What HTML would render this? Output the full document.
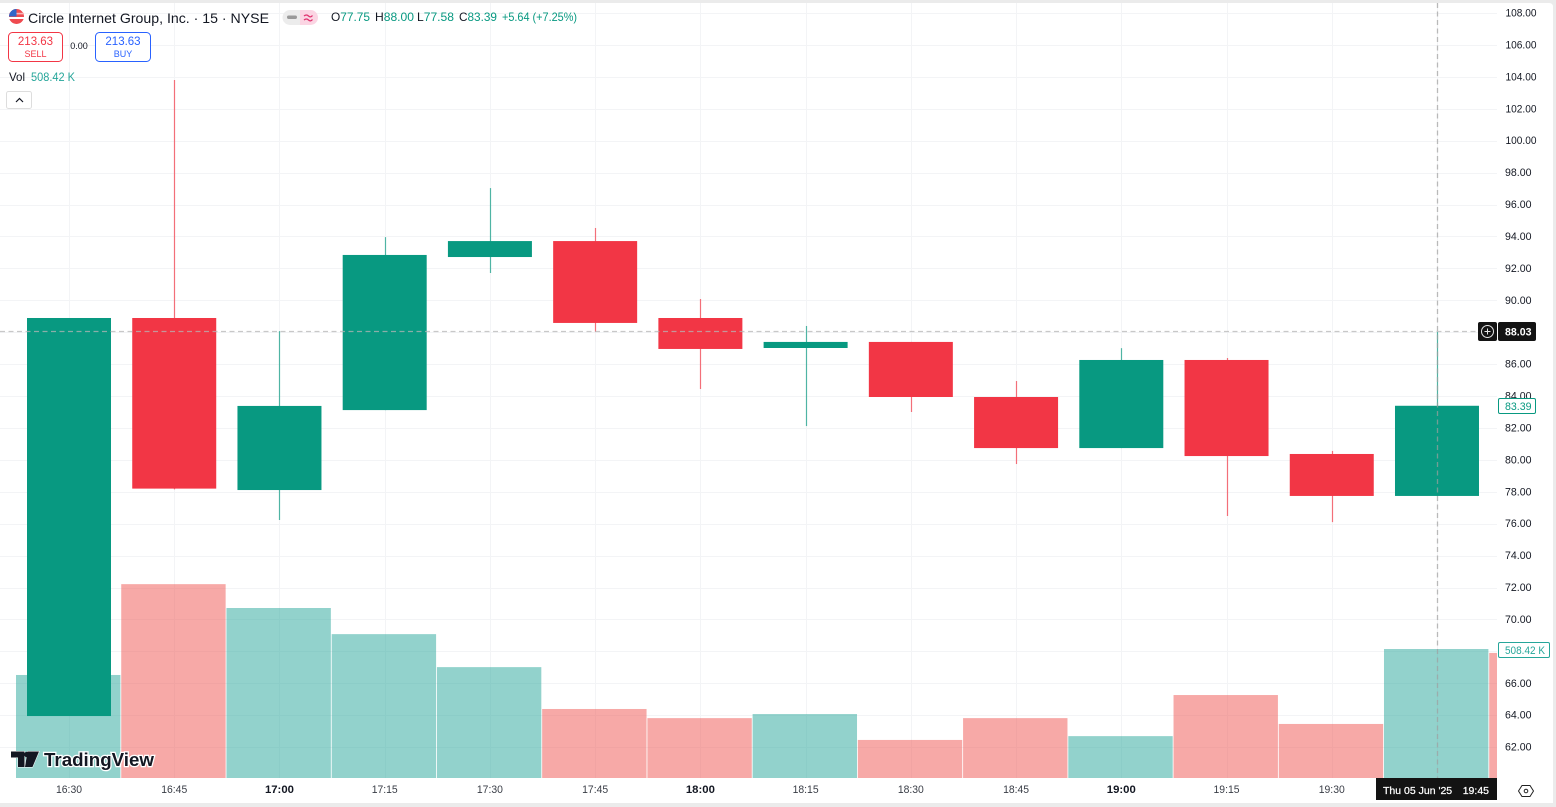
<!DOCTYPE html>
<html lang="en">
<head>
<meta charset="utf-8">
<title>Circle Internet Group 15m chart</title>
<style>
html,body{margin:0;padding:0;width:1556px;height:807px;overflow:hidden;background:#ebebeb}
svg{display:block;position:absolute;left:0;top:0}
text{font-family:"Liberation Sans",sans-serif}
</style>
</head>
<body>
<svg id="chart" xmlns="http://www.w3.org/2000/svg" width="1556" height="807" viewBox="0 0 1556 807">
  <defs>
    <clipPath id="pane-clip"><rect x="0" y="2" width="1497" height="776"/></clipPath>
  </defs>
  <path d="M0 3H1549Q1553 3 1553 7V803H0Z" fill="#ffffff"/>
  <g id="grid"></g>
  <g id="volumes" clip-path="url(#pane-clip)"></g>
  <g id="candles" clip-path="url(#pane-clip)"></g>
  <g id="price-axis"></g>
  <g id="time-axis"></g>

  <line x1="1437.5" y1="3" x2="1437.5" y2="778" stroke="#a0a0a0" stroke-opacity=".7" stroke-width="1.300" stroke-dasharray="5 3.500"/>
  <line x1="0" y1="331.5" x2="1478" y2="331.5" stroke="#b5b5b5" stroke-opacity=".75" stroke-width="1.300" stroke-dasharray="5 3.500"/>

  <g>
    <rect x="1478" y="322" width="19" height="19" rx="2" fill="#131313"/>
    <circle cx="1487.5" cy="331.5" r="6" fill="none" stroke="#e5e5e5"/>
    <path d="M1484.5 331.5h6M1487.5 328.5v6" stroke="#e5e5e5"/>
  </g>
  <g>
    <rect x="1498" y="322" width="38" height="19" rx="2" fill="#131313"/>
    <text x="1505" y="335.5" font-size="11" font-weight="bold" fill="#ffffff" textLength="26.500" lengthAdjust="spacingAndGlyphs">88.03</text>
  </g>
  <g>
    <rect x="1498.5" y="398.5" width="37" height="15" rx="1.5" fill="#ffffff" stroke="#089981"/>
    <text x="1505" y="410" font-size="11" fill="#089981" textLength="26.500" lengthAdjust="spacingAndGlyphs">83.39</text>
  </g>
  <g>
    <rect x="1498.5" y="642.5" width="51" height="15" rx="1.5" fill="#ffffff" stroke="#26a69a"/>
    <text x="1505" y="654" font-size="11" fill="#26a69a" textLength="40" lengthAdjust="spacingAndGlyphs">508.42 K</text>
  </g>
  <g>
    <rect x="1376" y="778" width="121" height="22" fill="#131313"/>
    <text x="1383" y="794" font-size="10.5" fill="#ffffff" stroke="#ffffff" stroke-width=".25">Thu 05 Jun '25</text>
    <text x="1489" y="794" text-anchor="end" font-size="10.5" fill="#ffffff" stroke="#ffffff" stroke-width=".25">19:45</text>
  </g>
  <g>
    <path d="M1522 785.5h8l3.500 5.500-3.500 5.500h-8l-3.500-5.500z" fill="none" stroke="#222" stroke-width="1"/>
    <circle cx="1526" cy="791" r="1.800" fill="none" stroke="#222"/>
  </g>

  <g>
    <circle cx="16.500" cy="16.500" r="7.500" fill="#ef4a4f"/>
    <rect x="9" y="17" width="15" height="2" fill="#ffffff"/>
    <rect x="9" y="12.800" width="15" height="1.600" fill="#f7b7ba"/>
    <path d="M9 16.500A7.500 7.500 0 0 1 16.500 9V16.500Z" fill="#2f66c9"/>
  </g>
  <text x="28" y="23" font-size="14" fill="#131722" textLength="241" lengthAdjust="spacingAndGlyphs">Circle Internet Group, Inc. · 15 · NYSE</text>
  <g>
    <path d="M290 10H300V25H290A7.500 7.500 0 0 1 290 10Z" fill="#ececec"/>
    <path d="M300 10H310.500A7.500 7.500 0 0 1 310.500 25H300Z" fill="#fbd5e3"/>
    <rect x="287" y="15.500" width="10" height="3.500" rx="1.700" fill="#9a9a9a"/>
    <path d="M304 16q2.500-2 4.500 0t4-.5M304 20q2.500-2 4.500 0t4-.5" fill="none" stroke="#e0336f" stroke-width="1.300"/>
  </g>
  <g font-size="12">
    <text x="331" y="21" textLength="39" lengthAdjust="spacingAndGlyphs"><tspan fill="#131722">O</tspan><tspan fill="#089981">77.75</tspan></text>
    <text x="375" y="21" textLength="39" lengthAdjust="spacingAndGlyphs"><tspan fill="#131722">H</tspan><tspan fill="#089981">88.00</tspan></text>
    <text x="417" y="21" textLength="37" lengthAdjust="spacingAndGlyphs"><tspan fill="#131722">L</tspan><tspan fill="#089981">77.58</tspan></text>
    <text x="459" y="21" textLength="38" lengthAdjust="spacingAndGlyphs"><tspan fill="#131722">C</tspan><tspan fill="#089981">83.39</tspan></text>
    <text x="502" y="21" fill="#089981" textLength="75" lengthAdjust="spacingAndGlyphs">+5.64 (+7.25%)</text>
  </g>
  <g>
    <rect x="8.500" y="32.500" width="54" height="29" rx="4" fill="#ffffff" stroke="#f23645"/>
    <text x="35.500" y="45" text-anchor="middle" font-size="11.500" fill="#f23645">213.63</text>
    <text x="35.500" y="57" text-anchor="middle" font-size="9" fill="#f23645">SELL</text>
  </g>
  <text x="79" y="49" text-anchor="middle" font-size="9" fill="#131722">0.00</text>
  <g>
    <rect x="95.500" y="32.500" width="55" height="29" rx="4" fill="#ffffff" stroke="#2962ff"/>
    <text x="123" y="45" text-anchor="middle" font-size="11.500" fill="#2962ff">213.63</text>
    <text x="123" y="57" text-anchor="middle" font-size="9" fill="#2962ff">BUY</text>
  </g>
  <g font-size="12">
    <text x="9" y="81" fill="#131722" textLength="16" lengthAdjust="spacingAndGlyphs">Vol</text>
    <text x="31" y="81" fill="#26a69a" textLength="44" lengthAdjust="spacingAndGlyphs">508.42 K</text>
  </g>
  <g>
    <rect x="6.500" y="91.500" width="25" height="17" rx="2" fill="#ffffff" stroke="#dddddd"/>
    <path d="M16 102l3.500-3.500 3.500 3.500" fill="none" stroke="#131722" stroke-width="1.200"/>
  </g>
  <g>
    <path d="M11 751.500H24.500V767H18V757.500H11ZM27.500 751.500H39L32.500 767H25Z" fill="#131722" stroke="#ffffff" stroke-width="1" paint-order="stroke"/>
    <circle cx="27" cy="754.500" r="2.800" fill="#131722"/>
    <text x="44" y="766" font-size="18.500" font-weight="bold" fill="#131722" stroke="#ffffff" stroke-width="2.500" paint-order="stroke" textLength="110" lengthAdjust="spacingAndGlyphs">TradingView</text>
  </g>
</svg>
<script>
const timeLabels = ["16:30","16:45","17:00","17:15","17:30","17:45","18:00","18:15","18:30","18:45","19:00","19:15","19:30"];
const boldTimes = ["17:00","18:00","19:00"];
const opens  = [63.95,88.89,78.11,83.12,92.71,93.71,88.89,87.01,87.39,83.94,80.74,86.26,80.37,77.74];
const highs  = [88.89,103.80,88.07,93.96,97.03,94.53,90.08,88.39,87.39,84.94,87.00,86.38,80.56,88.03];
const lows   = [63.95,78.15,76.23,83.12,91.71,88.01,84.44,82.12,83.00,79.74,80.74,76.48,76.10,77.74];
const closes = [88.89,78.20,83.38,92.84,93.71,88.58,86.95,87.39,83.94,80.74,86.26,80.24,77.74,83.39];
const volumes = [406,764,670,567,437,272,236,252,150,236,165,327,213,508.42,493];
const volumeUp = [1,0,1,1,1,0,0,1,0,0,1,0,0,1,0];
const priceTicks = [108,106,104,102,100,98,96,94,92,90,88,86,84,82,80,78,76,74,72,70,68,66,64,62];

const NS = "http://www.w3.org/2000/svg";
function xScale(i){ return 69 + i * 105.23; }
function yPrice(p){ return 13 + (108 - p) * 15.96; }
function yVolume(v){ return 778 - v * 129 / 508.42; }
function make(tag, attrs, parent){
  const el = document.createElementNS(NS, tag);
  for (const k in attrs) el.setAttribute(k, attrs[k]);
  parent.appendChild(el);
  return el;
}
const gridG = document.getElementById("grid");
const volG = document.getElementById("volumes");
const candleG = document.getElementById("candles");
const priceG = document.getElementById("price-axis");
const timeG = document.getElementById("time-axis");

priceTicks.forEach(function(p){
  const y = Math.round(yPrice(p)) + 0.5;
  const g = make("line", {x1:0, x2:1497, y1:y, y2:y, stroke:"#f3f4f6"}, gridG);
  
  
  const label = p.toFixed(2);
  const t = make("text", {x:label.length > 5 ? 1505.5 : 1505, y:yPrice(p) + 3.5, "font-size":11, fill:"#131722", textLength:label.length > 5 ? 31 : 26.5, lengthAdjust:"spacingAndGlyphs"}, priceG);
  
  
  t.textContent = label;
});

timeLabels.forEach(function(label, i){
  const x = Math.round(xScale(i)) + 0.5;
  const g = make("line", {x1:x, x2:x, y1:3, y2:778, stroke:"#f3f4f6"}, gridG);
  
  
  const bold = boldTimes.indexOf(label) >= 0;
  const t = make("text", {x:xScale(i), y:793, "text-anchor":"middle", "font-size":11, "font-weight":bold ? "bold" : "normal", fill:"#131722", "fill-opacity":bold ? 1 : 0.85, textLength:bold ? 29 : 26, lengthAdjust:"spacingAndGlyphs"}, timeG);
  
  
  t.textContent = label;
});
const lastGrid = make("line", {x1:1437.5, x2:1437.5, y1:3, y2:778, stroke:"#f3f4f6"}, gridG);



volumes.forEach(function(v, i){
  const left = xScale(i) - 53;
  const top = yVolume(v);
  const r = make("rect", {x:left, y:top, width:104.400, height:778 - top, fill:volumeUp[i] ? "#26a69a" : "#ef5350", "fill-opacity":0.5}, volG);
  
  
});

opens.forEach(function(o, i){
  const c = closes[i];
  const up = c >= o;
  const color = up ? "#089981" : "#f23645";
  const x = xScale(i);
  const wx = Math.round(x) + 0.5;
  const w = make("line", {x1:wx, x2:wx, y1:yPrice(highs[i]), y2:yPrice(lows[i]), stroke:color, "stroke-opacity":0.7, "stroke-width":1.200}, candleG);
  
  
  const top = yPrice(Math.max(o, c));
  const bot = yPrice(Math.min(o, c));
  const b = make("rect", {x:x - 42, y:top, width:84, height:bot - top, fill:color}, candleG);
  
  
});
</script>
</body>
</html>
